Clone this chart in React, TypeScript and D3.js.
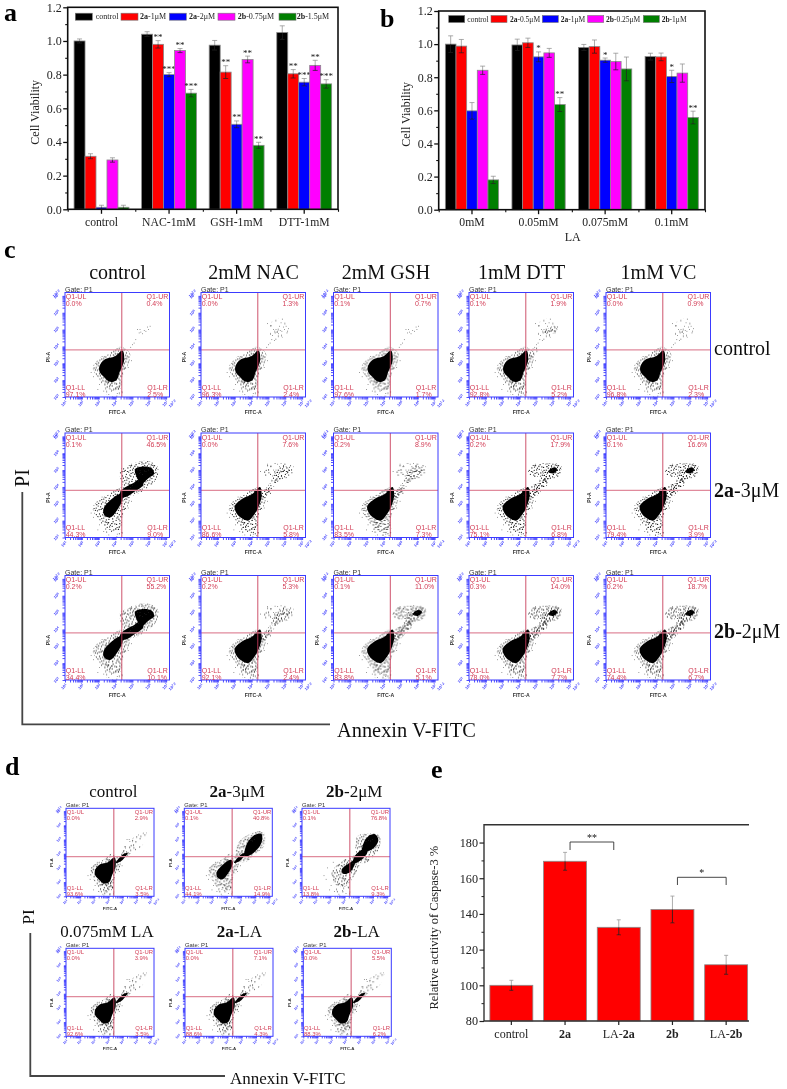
import React, { useEffect, useRef } from 'react';
import * as d3 from 'd3';

type Pt = [number, number];

const SERIF = '"Liberation Serif", serif';
const SANS = '"Liberation Sans", sans-serif';
const BAR_COLORS = ['#000000', '#ff0000', '#0000ff', '#ff00ff', '#007f00'];

// panel a
const A_GROUPS = ['control', 'NAC-1mM', 'GSH-1mM', 'DTT-1mM'];
const A_SERIES = ['control', '2a-1μM', '2a-2μM', '2b-0.75μM', '2b-1.5μM'];
const A_VALUES = [
  [1.0, 0.315, 0.012, 0.293, 0.012],
  [1.04, 0.98, 0.8, 0.943, 0.69],
  [0.975, 0.815, 0.505, 0.89, 0.38],
  [1.05, 0.805, 0.755, 0.855, 0.745],
];
const A_ERRORS = [
  [0.012, 0.015, 0.012, 0.013, 0.012],
  [0.015, 0.022, 0.012, 0.012, 0.022],
  [0.028, 0.038, 0.02, 0.02, 0.018],
  [0.04, 0.025, 0.022, 0.03, 0.025],
];
const A_STARS = [
  ['', '', '', '', ''],
  ['', '**', '***', '**', '***'],
  ['', '**', '**', '**', '**'],
  ['', '**', '***', '**', '***'],
];

// panel b
const B_GROUPS = ['0mM', '0.05mM', '0.075mM', '0.1mM'];
const B_SERIES = ['control', '2a-0.5μM', '2a-1μM', '2b-0.25μM', '2b-1μM'];
const B_VALUES = [
  [1.0, 0.988, 0.597, 0.842, 0.18],
  [0.995, 1.008, 0.923, 0.947, 0.635],
  [0.98, 0.985, 0.903, 0.895, 0.85],
  [0.925, 0.923, 0.805, 0.825, 0.557],
];
const B_ERRORS = [
  [0.05, 0.04, 0.05, 0.025, 0.022],
  [0.035, 0.028, 0.03, 0.027, 0.042],
  [0.018, 0.04, 0.013, 0.05, 0.072],
  [0.02, 0.023, 0.037, 0.055, 0.038],
];
const B_STARS = [
  ['', '', '', '', ''],
  ['', '', '*', '', '**'],
  ['', '', '*', '', ''],
  ['', '', '*', '', '**'],
];

// panel e
const E_CATS = ['control', '2a', 'LA-2a', '2b', 'LA-2b'];
const E_VALUES = [100, 169.5, 132.5, 142.5, 111.5];
const E_ERRORS = [2.8, 5, 4.2, 7.5, 5.3];

// flow panels, quadrant read-outs per plot: UL, UR, LL, LR
const C_COLS = ['control', '2mM NAC', '2mM GSH', '1mM DTT', '1mM VC'];
const C_ROWS = ['control', '2a-3μM', '2b-2μM'];
const C_QUAD = [
  [['0.0%', '0.4%', '97.1%', '2.5%'], ['0.0%', '1.3%', '96.3%', '2.4%'], ['0.1%', '0.7%', '97.6%', '1.7%'], ['0.1%', '1.9%', '92.8%', '5.2%'], ['0.0%', '0.9%', '96.8%', '2.3%']],
  [['0.1%', '46.5%', '44.3%', '9.0%'], ['0.0%', '7.6%', '86.6%', '5.8%'], ['0.2%', '8.9%', '83.5%', '7.3%'], ['0.2%', '17.9%', '75.1%', '6.8%'], ['0.1%', '16.6%', '79.4%', '3.9%']],
  [['0.2%', '55.2%', '34.4%', '10.1%'], ['0.2%', '5.3%', '92.1%', '2.4%'], ['0.1%', '11.0%', '83.8%', '5.1%'], ['0.3%', '14.0%', '78.0%', '7.7%'], ['0.2%', '18.7%', '74.4%', '6.7%']],
];
const D_TITLES = [['control', '2a-3μM', '2b-2μM'], ['0.075mM LA', '2a-LA', '2b-LA']];
const D_QUAD = [
  [['0.0%', '2.9%', '93.6%', '3.5%'], ['0.1%', '40.8%', '44.1%', '14.9%'], ['0.1%', '76.8%', '13.8%', '9.3%']],
  [['0.0%', '3.9%', '92.6%', '3.5%'], ['0.0%', '7.1%', '88.6%', '4.3%'], ['0.0%', '5.5%', '88.3%', '6.2%']],
];
const QUAD_NAMES = ['Q1-UL', 'Q1-UR', 'Q1-LL', 'Q1-LR'];
const GATE: Pt = [4.37, 3.8];

// cloud outlines, in decades of FITC-A / PI-A
const LOW_CORE: Pt[] = [[3.05, 2.85], [3.4, 3.25], [3.95, 3.4], [4.42, 3.75], [4.5, 3.1], [4.25, 2.5], [4.05, 2.0], [3.65, 1.9], [3.3, 2.2], [3.05, 2.5]];
const LOW_HALO: Pt[] = [[2.65, 2.7], [3.0, 3.25], [3.6, 3.55], [4.2, 4.0], [4.85, 3.6], [4.7, 2.8], [4.4, 2.2], [4.3, 1.5], [3.9, 1.4], [3.35, 1.6], [3.0, 2.1]];
const LOW_TAIL: Pt[] = [[3.3, 2.0], [4.3, 2.0], [4.35, 1.1], [3.5, 1.1]];
const LOW_CORE_WIDE: Pt[] = [[3.0, 2.85], [3.45, 3.3], [4.0, 3.55], [4.5, 4.0], [4.6, 3.5], [4.45, 2.9], [4.15, 2.35], [3.8, 2.0], [3.4, 2.15], [3.1, 2.45]];
const LOW_CORE_SLIM: Pt[] = [[3.28, 2.69], [3.67, 3.19], [4.27, 3.58], [4.43, 3.38], [4.07, 2.59], [3.67, 2.19], [3.32, 2.35]];
const LOW_CORE_SMALL: Pt[] = [[3.79, 2.87], [4.26, 3.29], [4.73, 3.53], [4.69, 3.18], [4.38, 2.7], [3.91, 2.58]];
const LOW_HALO_SMALL: Pt[] = [[3.09, 2.7], [3.91, 3.53], [4.85, 3.88], [5.08, 3.41], [4.62, 2.35], [3.91, 1.64], [3.32, 1.87]];
const BRIDGE_THIN: Pt[] = [[4.5, 3.35], [5.0, 3.95], [5.35, 4.05], [4.85, 3.45]];
const BRIDGE_THICK: Pt[] = [[4.2, 3.4], [4.4, 3.85], [5.0, 4.2], [5.5, 4.5], [5.65, 4.15], [5.1, 3.7], [4.6, 3.4]];
const UR_CLOUD: Pt[] = [[4.95, 4.9], [5.3, 5.55], [6.0, 5.6], [6.25, 5.1], [5.8, 4.5], [5.3, 4.4]];
const UR_LOBE: Pt[] = [[5.5, 4.9], [6.0, 5.2], [6.3, 5.15], [6.1, 4.85], [5.7, 4.65]];
const UR_ARC: Pt[] = [[4.5, 4.8], [4.8, 5.3], [5.7, 5.4], [6.45, 5.3], [6.4, 4.7], [5.8, 4.4], [5.4, 3.9], [4.9, 3.4], [4.5, 3.5], [5.1, 4.2], [5.3, 4.6], [4.8, 4.6]];
const UR_ARC_CORE: Pt[] = [[5.5, 4.85], [5.9, 5.25], [6.3, 5.15], [6.2, 4.8], [5.8, 4.55], [5.4, 4.2], [5.2, 4.3]];
const UR_SMALL_CORE: Pt[] = [[5.7, 4.9], [6.0, 5.15], [6.25, 5.05], [6.0, 4.8]];
const UR_HEAVY_CORE: Pt[] = [[5.16, 5.05], [5.65, 5.21], [6.15, 5.11], [6.29, 4.78], [5.95, 4.52], [5.56, 4.22], [5.26, 4.58]];
const UR_HEAVY_HALO: Pt[] = [[4.27, 5.01], [4.66, 5.21], [5.75, 5.57], [6.49, 5.21], [6.45, 4.52], [5.85, 3.92], [5.0, 3.5], [4.5, 3.9]];
const UR_TIGHT_CORE: Pt[] = [[5.38, 4.63], [5.97, 5.33], [6.43, 5.4], [6.43, 4.75], [5.85, 4.04], [5.26, 3.81]];
const UR_TIGHT_HALO: Pt[] = [[4.79, 4.74], [5.73, 5.44], [6.55, 5.56], [6.67, 4.63], [5.97, 3.95], [5.26, 3.4], [4.68, 3.6]];
const UR_FULL_CORE: Pt[] = [[5.32, 4.71], [5.67, 5.23], [6.14, 5.37], [6.38, 4.95], [6.02, 4.36], [5.55, 4.12], [5.2, 3.88]];
const UR_FULL_HALO: Pt[] = [[4.85, 5.18], [5.67, 5.42], [6.45, 5.3], [6.54, 4.7], [6.14, 3.88], [5.32, 3.3], [4.97, 3.53]];
const UR_FULL_BRIDGE: Pt[] = [[4.6, 3.3], [4.7, 3.8], [5.3, 4.3], [5.6, 4.1], [5.1, 3.5]];
const UR_DIAGONAL: Pt[] = [[4.99, 4.38], [6.05, 5.32], [6.68, 5.48], [6.4, 4.62], [5.58, 4.03], [4.99, 3.56]];

// single events away from the clouds
const STRAY_LOW: Pt[] = [[2.55, 2.45], [2.8, 3.0], [2.7, 2.2], [3.05, 1.75], [3.3, 1.35], [3.6, 1.15], [3.85, 1.4], [4.1, 1.2], [4.25, 1.65], [4.37, 1.3], [4.37, 2.2], [4.75, 2.75], [4.95, 3.15], [4.6, 3.3], [3.2, 3.4], [2.95, 1.45]];
const STRAY_UR: Pt[] = [[4.9, 3.95], [5.0, 4.1], [5.1, 4.2], [5.2, 4.4], [5.3, 5.0], [5.45, 5.0], [5.5, 4.85], [5.7, 4.95], [5.8, 4.9], [5.95, 5.0], [6.05, 5.2], [5.9, 5.15], [5.6, 4.75], [5.4, 4.8], [5.25, 4.65], [4.95, 5.35], [5.65, 5.2], [6.2, 5.05], [5.75, 5.4], [5.15, 5.25], [6.1, 4.8], [5.35, 4.35], [4.8, 3.85], [5.55, 5.35]];
const STIPPLE: Pt[] = [[0.5, 3.2], [2.1, 12.7], [3.4, 7.1], [1.2, 17.3], [4.8, 0.9], [5.6, 15.4], [6.3, 4.4], [7.9, 10.2], [8.2, 18.1], [9.4, 1.8], [9.9, 7.7], [10.7, 13.3], [11.5, 4.9], [12.6, 16.8], [13.1, 0.4], [13.8, 9.6], [14.9, 12.1], [15.4, 3.3], [16.2, 6.8], [16.9, 15.9], [17.7, 1.1], [18.3, 10.9], [19.2, 18.3], [19.8, 5.2], [20.6, 13.7], [21.3, 8.3], [21.9, 1.7], [22.4, 16.2], [1.7, 9.8], [3.9, 14.9], [5.1, 11.3], [6.9, 7.9], [7.4, 1.3], [8.8, 14.7], [10.2, 16.0], [11.9, 10.8], [12.4, 7.2], [14.2, 18.4], [15.8, 9.1], [17.3, 12.9], [18.7, 4.0], [19.5, 15.1], [20.9, 10.4], [22.7, 5.9], [0.9, 14.6], [2.8, 1.9], [4.3, 4.2], [6.1, 18.5], [8.3, 5.7], [11.1, 0.7], [13.5, 13.9], [16.4, 0.3], [17.9, 7.6], [20.1, 2.4], [21.6, 17.9], [2.4, 5.6], [5.9, 9.0], [9.0, 11.8], [14.6, 5.8], [18.9, 13.4]];

type Layer = [Pt[], 'solid' | 'dense' | 'mid' | 'sparse'];
const RECIPES: Record<string, { layers: Layer[]; strayUr: number }> = {
  trace: { layers: [[LOW_HALO, 'dense'], [LOW_TAIL, 'sparse'], [LOW_CORE, 'solid']], strayUr: 14 },
  cloud: { layers: [[LOW_HALO, 'dense'], [LOW_TAIL, 'sparse'], [LOW_CORE, 'solid'], [UR_CLOUD, 'sparse']], strayUr: 22 },
  lobe: { layers: [[LOW_HALO, 'dense'], [LOW_TAIL, 'mid'], [LOW_CORE, 'solid'], [UR_CLOUD, 'sparse'], [UR_LOBE, 'dense'], [BRIDGE_THIN, 'mid']], strayUr: 24 },
  arc: { layers: [[LOW_HALO, 'dense'], [LOW_TAIL, 'mid'], [LOW_CORE_WIDE, 'solid'], [UR_ARC, 'mid'], [UR_ARC_CORE, 'dense'], [BRIDGE_THIN, 'dense']], strayUr: 24 },
  arcLobe: { layers: [[LOW_HALO, 'dense'], [LOW_TAIL, 'mid'], [LOW_CORE_WIDE, 'solid'], [UR_ARC, 'dense'], [UR_ARC_CORE, 'dense'], [UR_SMALL_CORE, 'solid'], [BRIDGE_THICK, 'dense']], strayUr: 24 },
  heavy: { layers: [[LOW_HALO, 'dense'], [LOW_TAIL, 'sparse'], [LOW_CORE_SLIM, 'solid'], [UR_HEAVY_HALO, 'dense'], [UR_HEAVY_CORE, 'solid'], [BRIDGE_THICK, 'solid']], strayUr: 24 },
  tight: { layers: [[LOW_HALO, 'dense'], [LOW_TAIL, 'sparse'], [LOW_CORE_SLIM, 'solid'], [UR_TIGHT_HALO, 'dense'], [UR_TIGHT_CORE, 'solid'], [BRIDGE_THIN, 'solid']], strayUr: 10 },
  full: { layers: [[LOW_HALO_SMALL, 'dense'], [LOW_TAIL, 'sparse'], [LOW_CORE_SMALL, 'solid'], [UR_FULL_HALO, 'dense'], [UR_FULL_CORE, 'solid'], [UR_FULL_BRIDGE, 'solid']], strayUr: 10 },
  diagonal: { layers: [[LOW_HALO, 'dense'], [LOW_TAIL, 'mid'], [LOW_CORE, 'solid'], [UR_DIAGONAL, 'mid'], [BRIDGE_THIN, 'solid']], strayUr: 8 },
};
const C_RECIPE = [
  ['trace', 'cloud', 'trace', 'lobe', 'cloud'],
  ['heavy', 'arc', 'arc', 'arcLobe', 'arcLobe'],
  ['heavy', 'arc', 'arcLobe', 'arcLobe', 'arcLobe'],
];
const D_RECIPE = [['diagonal', 'tight', 'full'], ['diagonal', 'diagonal', 'diagonal']];
const C_NO_PI = ['0-2', '1-2'];

const DECADES = [1, 2, 3, 4, 5, 6, 7];

type Sel = d3.Selection<any, any, any, any>;

function addRich(t: Sel, label: string) {
  // compound names are set bold
  label.split(/(2[ab])/).filter(Boolean).forEach(part => {
    t.append('tspan').attr('font-weight', /^2[ab]$/.test(part) ? 'bold' : null).text(part);
  });
}

function serifText(g: Sel, x: number, y: number, label: string, size: number, anchor = 'middle') {
  const t = g.append('text').attr('x', x).attr('y', y).attr('font-family', SERIF)
    .attr('font-size', size).attr('text-anchor', anchor).attr('fill', '#111');
  addRich(t, label);
  return t;
}

function styleAxis(a: Sel, width: number, color = '#111') {
  a.select('.domain').remove();
  a.selectAll('line').attr('stroke', color).attr('stroke-width', width);
}

function drawGroupedBars(g: Sel, o: {
  left: number; right: number; top: number; bottom: number; inner: number;
  groups: string[]; series: string[]; values: number[][]; errors: number[][]; stars: string[][];
  legendX: number[]; legendLabelX: number[]; legendY: number; legendSize: number; swatchW: number; ylabelX: number;
}) {
  const x0 = d3.scaleBand().domain(o.groups).range([o.left, o.right]).paddingInner(o.inner).paddingOuter(o.inner / 2);
  const x1 = d3.scaleBand().domain(o.series).range([0, x0.bandwidth()]);
  const y = d3.scaleLinear().domain([0, 1.2]).range([o.bottom, o.top]);

  o.groups.forEach((grp, i) => {
    o.series.forEach((s, j) => {
      const v = o.values[i][j];
      const e = o.errors[i][j];
      const bx = x0(grp)! + x1(s)!;
      const cx = bx + x1.bandwidth() / 2;
      g.append('rect').attr('x', bx).attr('y', y(v)).attr('width', x1.bandwidth()).attr('height', o.bottom - y(v))
        .attr('fill', BAR_COLORS[j]).attr('stroke', '#8a8a8a').attr('stroke-width', 0.8);
      g.append('line').attr('x1', cx).attr('x2', cx).attr('y1', y(v + e)).attr('y2', y(v)).attr('stroke', '#888').attr('stroke-width', 0.7);
      g.append('line').attr('x1', cx).attr('x2', cx).attr('y1', y(v)).attr('y2', y(Math.max(v - e, 0))).attr('stroke', '#222').attr('stroke-width', 0.7);
      [v + e, Math.max(v - e, 0)].forEach((w, k) => {
        g.append('line').attr('x1', cx - 2.5).attr('x2', cx + 2.5).attr('y1', y(w)).attr('y2', y(w))
          .attr('stroke', k === 0 ? '#888' : '#222').attr('stroke-width', 0.7);
      });
      if (o.stars[i][j]) {
        g.append('text').attr('x', cx).attr('y', y(v + e) - 0.5).attr('text-anchor', 'middle')
          .attr('font-family', SERIF).attr('font-size', 9).attr('fill', '#111').text(o.stars[i][j]);
      }
    });
  });

  g.append('rect').attr('x', o.left).attr('y', o.top).attr('width', o.right - o.left).attr('height', o.bottom - o.top)
    .attr('fill', 'none').attr('stroke', '#111').attr('stroke-width', 1.6);

  const major = g.append('g').attr('transform', `translate(${o.left},0)`)
    .call(d3.axisLeft(y).tickValues(d3.range(0, 1.21, 0.2)).tickSize(4.5).tickFormat(d3.format('.1f')) as any);
  styleAxis(major, 1.3);
  major.selectAll('text').attr('font-family', SERIF).attr('font-size', 12).attr('fill', '#222').attr('x', -6);
  const minor = g.append('g').attr('transform', `translate(${o.left},0)`)
    .call(d3.axisLeft(y).tickValues(d3.range(0.1, 1.2, 0.2)).tickSize(2.5).tickFormat(() => '') as any);
  styleAxis(minor, 1.1);

  const bot = g.append('g').attr('transform', `translate(0,${o.bottom})`)
    .call(d3.axisBottom(x0).tickSize(4.5) as any);
  styleAxis(bot, 1.3);
  bot.selectAll('text').attr('font-family', SERIF).attr('font-size', 11.7).attr('fill', '#222').attr('y', 8).attr('dy', '0.71em');
  const edges = d3.scaleLinear().domain([0, o.groups.length]).range([o.left, o.right]);
  const botMinor = g.append('g').attr('transform', `translate(0,${o.bottom})`)
    .call(d3.axisBottom(edges).tickValues(d3.range(0, o.groups.length + 1)).tickSize(2.5).tickFormat(() => '') as any);
  styleAxis(botMinor, 1.1);

  serifText(g, 0, 0, 'Cell Viability', 12).attr('transform', `translate(${o.ylabelX},${(o.top + o.bottom) / 2 + 4}) rotate(-90)`).attr('fill', '#222');

  o.series.forEach((s, j) => {
    g.append('rect').attr('x', o.legendX[j]).attr('y', o.legendY - 3.5).attr('width', o.swatchW).attr('height', 7)
      .attr('fill', BAR_COLORS[j]).attr('stroke', '#777').attr('stroke-width', 0.6);
    serifText(g, o.legendLabelX[j], o.legendY + 2.6, s, o.legendSize, 'start').attr('fill', '#222');
  });
}

function drawFlow(root: Sel, left: number, top: number, size: number, recipeName: string, quad: string[], showPi: boolean) {
  const k = size / 104.5;
  const g = root.append('g').attr('transform', `translate(${left},${top})`);
  const sx = d3.scaleLog().domain([10, 10 ** 7.2]).range([0, size]);
  const sy = d3.scaleLog().domain([10, 10 ** 7.2]).range([size, 0]);
  const recipe = RECIPES[recipeName];
  const path = d3.line<Pt>().x(d => sx(10 ** d[0])).y(d => sy(10 ** d[1])).curve(d3.curveCatmullRomClosed.alpha(0.5));

  recipe.layers.forEach(([shape, kind]) => {
    g.append('path').attr('d', path(shape)).attr('fill', kind === 'solid' ? '#000' : `url(#stipple-${kind})`);
  });
  const strays = [...STRAY_LOW, ...STRAY_UR.slice(0, recipe.strayUr)];
  g.selectAll('.stray').data(strays).enter().append('rect')
    .attr('x', d => sx(10 ** d[0]) - 0.35).attr('y', d => sy(10 ** d[1]) - 0.35)
    .attr('width', 0.7).attr('height', 0.7).attr('fill', '#333');

  // gate lines
  g.append('line').attr('x1', 0).attr('x2', size).attr('y1', sy(10 ** GATE[1])).attr('y2', sy(10 ** GATE[1]))
    .attr('stroke', '#e08a9c').attr('stroke-width', 1.3);
  g.append('line').attr('x1', sx(10 ** GATE[0])).attr('x2', sx(10 ** GATE[0])).attr('y1', 0).attr('y2', size)
    .attr('stroke', '#c8405c').attr('stroke-width', 0.9);

  const BLUE = '#3a3aff';
  const ticks = sx.ticks();
  const ax = g.append('g').attr('transform', `translate(0,${size})`)
    .call(d3.axisBottom(sx).tickValues(ticks).tickSize(2.5 * k).tickFormat(() => '') as any);
  styleAxis(ax, 0.9, BLUE);
  const ay = g.append('g')
    .call(d3.axisLeft(sy).tickValues(ticks).tickSize(2.5 * k).tickFormat(() => '') as any);
  styleAxis(ay, 0.9, BLUE);
  g.append('rect').attr('width', size).attr('height', size).attr('fill', 'none').attr('stroke', BLUE).attr('stroke-width', 1);

  const tickLabel = (tx: number, ty: number, exp: string) => {
    const t = g.append('text').attr('transform', `translate(${tx},${ty}) rotate(-45)`).attr('font-family', SANS)
      .attr('font-size', 4 * k).attr('font-weight', 'bold').attr('fill', BLUE).attr('text-anchor', 'middle').attr('dy', '0.35em');
    t.append('tspan').text('10');
    t.append('tspan').attr('dy', -1 * k).attr('font-size', 3.2 * k).text(exp);
  };
  DECADES.forEach(d => {
    tickLabel(sx(10 ** d) - 1 * k, size + 6.5 * k, String(d));
    tickLabel(-8.5 * k, sy(10 ** d), String(d));
  });
  tickLabel(size + 3 * k, size + 6.5 * k, '7.2');
  tickLabel(-8.5 * k, 1, '7.2');

  const redText = (x: number, y: number, s: string) =>
    g.append('text').attr('x', x).attr('y', y).attr('font-family', SANS).attr('font-size', 7 * k).attr('fill', '#d23c55').text(s);
  const rightX = size - 23 * k;
  redText(0.7, 6.6 * k, QUAD_NAMES[0]);
  redText(0.7, 13.6 * k, quad[0]);
  redText(rightX, 6.6 * k, QUAD_NAMES[1]);
  redText(rightX, 13.6 * k, quad[1]);
  redText(0.7, size - 7.2 * k, QUAD_NAMES[2]);
  redText(0.7, size - 0.2 * k, quad[2]);
  redText(rightX + 0.7, size - 7.2 * k, QUAD_NAMES[3]);
  redText(rightX + 0.7, size - 0.2 * k, quad[3]);

  g.append('text').attr('x', 0).attr('y', -1 * k).attr('font-family', SANS).attr('font-size', 7 * k).attr('fill', '#333').text('Gate: P1');
  g.append('text').attr('x', size / 2).attr('y', size + 16.5 * k).attr('text-anchor', 'middle').attr('font-family', SANS)
    .attr('font-size', 5.2 * k).attr('font-weight', 'bold').attr('fill', '#333').text('FITC-A');
  if (showPi) {
    g.append('text').attr('transform', `translate(${-15 * k},${size - 40 * k}) rotate(-90)`).attr('text-anchor', 'middle').attr('font-family', SANS)
      .attr('font-size', 5.2 * k).attr('font-weight', 'bold').attr('fill', '#333').text('PI-A');
  }
}

const App: React.FC = () => {
  const ref = useRef<SVGSVGElement | null>(null);
  useEffect(() => {
    if (!ref.current) return;
    const svg = d3.select(ref.current);
    svg.selectAll('*').remove();

    const defs = svg.append('defs');
    defs.append('filter').attr('id', 'soft').append('feGaussianBlur').attr('stdDeviation', 0.35);
    ([['dense', 1, 0.62], ['mid', 2, 0.55], ['sparse', 4, 0.5]] as [string, number, number][]).forEach(([name, every, r]) => {
      const p = defs.append('pattern').attr('id', `stipple-${name}`).attr('width', 23).attr('height', 19)
        .attr('patternUnits', 'userSpaceOnUse');
      STIPPLE.filter((_, i) => i % every === 0).forEach(d => {
        p.append('circle').attr('cx', d[0]).attr('cy', d[1]).attr('r', r).attr('fill', '#111');
      });
    });

    const root = svg.append('g').attr('filter', 'url(#soft)');
    root.append('rect').attr('x', -5).attr('y', -5).attr('width', 800).attr('height', 1100).attr('fill', '#fff');

    drawGroupedBars(root, {
      left: 67.7, right: 338, top: 7.3, bottom: 209.3, inner: 0.188,
      groups: A_GROUPS, series: A_SERIES, values: A_VALUES, errors: A_ERRORS, stars: A_STARS,
      legendX: [75.3, 121, 169.3, 218, 279], legendLabelX: [95.7, 140, 189, 237.7, 296.7], legendY: 16.7, legendSize: 8, swatchW: 17, ylabelX: 39,
    });
    drawGroupedBars(root, {
      left: 438.7, right: 705, top: 11, bottom: 209.7, inner: 0.2,
      groups: B_GROUPS, series: B_SERIES, values: B_VALUES, errors: B_ERRORS, stars: B_STARS,
      legendX: [448.7, 491, 542.3, 587.7, 643.3], legendLabelX: [467.3, 510, 560.7, 606, 661.7], legendY: 19, legendSize: 7.5, swatchW: 16, ylabelX: 410,
    });
    serifText(root, 572.7, 241, 'LA', 12).attr('fill', '#222');

    // panel c
    const cLeft = [65, 201, 333.5, 469, 606];
    const cTop = [292.5, 433, 575.5];
    C_COLS.forEach((name, j) => {
      serifText(root, cLeft[j] + 52.5, 279, name, 20);
      cTop.forEach((top, i) => {
        drawFlow(root, cLeft[j], top, 104.5, C_RECIPE[i][j], C_QUAD[i][j], !C_NO_PI.includes(`${i}-${j}`));
      });
    });
    [355, 497, 638].forEach((by, i) => serifText(root, 714, by, C_ROWS[i], 20, 'start'));
    serifText(root, 0, 0, 'PI', 20).attr('transform', 'translate(29,478) rotate(-90)');
    root.append('path').attr('d', 'M22.3,492V724.3H330').attr('fill', 'none').attr('stroke', '#444').attr('stroke-width', 1.8);
    serifText(root, 337, 736.7, 'Annexin V-FITC', 20.4, 'start');

    // panel d
    const dLeft = [[66, 184.3, 302], [66, 185, 303.3]];
    const dTop = [808.3, 948.3];
    const dCenter = [[113.3, 237.3, 354.3], [107, 239.3, 356.7]];
    const dBase = [797, 936.7];
    D_TITLES.forEach((row, i) => row.forEach((name, j) => {
      serifText(root, dCenter[i][j], dBase[i], name, 17);
      drawFlow(root, dLeft[i][j], dTop[i], 88, D_RECIPE[i][j], D_QUAD[i][j], true);
    }));
    serifText(root, 0, 0, 'PI', 17).attr('transform', 'translate(34,917) rotate(-90)');
    root.append('path').attr('d', 'M30.3,933V1076H225').attr('fill', 'none').attr('stroke', '#444').attr('stroke-width', 1.8);
    serifText(root, 230, 1084, 'Annexin V-FITC', 17, 'start');

    // panel e
    const ex = d3.scaleBand().domain(E_CATS).range([484.5, 753]).paddingInner(0.2).paddingOuter(0.1);
    const ey = d3.scaleLinear().domain([80, 190]).range([1021, 824.7]);
    E_CATS.forEach((c, i) => {
      const bx = ex(c)!;
      const cx = bx + ex.bandwidth() / 2;
      const v = E_VALUES[i];
      const e = E_ERRORS[i];
      root.append('rect').attr('x', bx).attr('y', ey(v)).attr('width', ex.bandwidth()).attr('height', 1021 - ey(v))
        .attr('fill', '#ff0000').attr('stroke', '#8a8a8a').attr('stroke-width', 0.8);
      root.append('line').attr('x1', cx).attr('x2', cx).attr('y1', ey(v + e)).attr('y2', ey(v)).attr('stroke', '#999').attr('stroke-width', 0.8);
      root.append('line').attr('x1', cx).attr('x2', cx).attr('y1', ey(v)).attr('y2', ey(v - e)).attr('stroke', '#222').attr('stroke-width', 0.8);
      [v + e, v - e].forEach((w, k) => {
        root.append('line').attr('x1', cx - 2).attr('x2', cx + 2).attr('y1', ey(w)).attr('y2', ey(w))
          .attr('stroke', k === 0 ? '#999' : '#222').attr('stroke-width', 0.8);
      });
    });
    root.append('path').attr('d', 'M749,824.7H484V1021H749').attr('fill', 'none').attr('stroke', '#333').attr('stroke-width', 1.4);
    const eLeft = root.append('g').attr('transform', 'translate(484,0)')
      .call(d3.axisLeft(ey).tickValues(d3.range(80, 181, 20)).tickSize(4.5) as any);
    styleAxis(eLeft, 1.2, '#222');
    eLeft.selectAll('text').attr('font-family', SERIF).attr('font-size', 12.2).attr('fill', '#222').attr('x', -6);
    const eMinor = root.append('g').attr('transform', 'translate(484,0)')
      .call(d3.axisLeft(ey).tickValues(d3.range(90, 190, 20)).tickSize(2.5).tickFormat(() => '') as any);
    styleAxis(eMinor, 1, '#222');
    const eBot = root.append('g').attr('transform', 'translate(0,1021)')
      .call(d3.axisBottom(ex).tickSize(4).tickFormat(() => '') as any);
    styleAxis(eBot, 1.2, '#222');
    E_CATS.forEach(c => serifText(root, ex(c)! + ex.bandwidth() / 2, 1038, c, 12).attr('fill', '#222'));
    serifText(root, 0, 0, 'Relative activity of Caspase-3 %', 12.5).attr('transform', 'translate(438,927.7) rotate(-90)').attr('fill', '#222');

    // significance brackets
    ([['2a', 'LA-2a', 842, 850, '**'], ['2b', 'LA-2b', 877.3, 885, '*']] as [string, string, number, number, string][]).forEach(([a, b, y1, y2, s]) => {
      const xa = ex(a)! + ex.bandwidth() / 2 + 5;
      const xb = ex(b)! + ex.bandwidth() / 2 + (b === 'LA-2a' ? -5 : 0);
      root.append('path').attr('d', `M${xa},${y2}V${y1}H${xb}V${y2}`).attr('fill', 'none').attr('stroke', '#333').attr('stroke-width', 0.9);
      serifText(root, (xa + xb) / 2, y1 - 1.5, s, 10);
    });

    // panel letters
    ([['a', 4, 21], ['b', 380, 27], ['c', 4, 258], ['d', 5, 775], ['e', 431, 778]] as [string, number, number][]).forEach(([l, x, y]) => {
      root.append('text').attr('x', x).attr('y', y).attr('font-family', SERIF).attr('font-weight', 'bold').attr('font-size', 26).attr('fill', '#000').text(l);
    });
  }, []);

  return <svg ref={ref} width={787} height={1089} style={{ position: 'absolute', left: 0, top: 0, display: 'block' }} />;
};

export default App;
